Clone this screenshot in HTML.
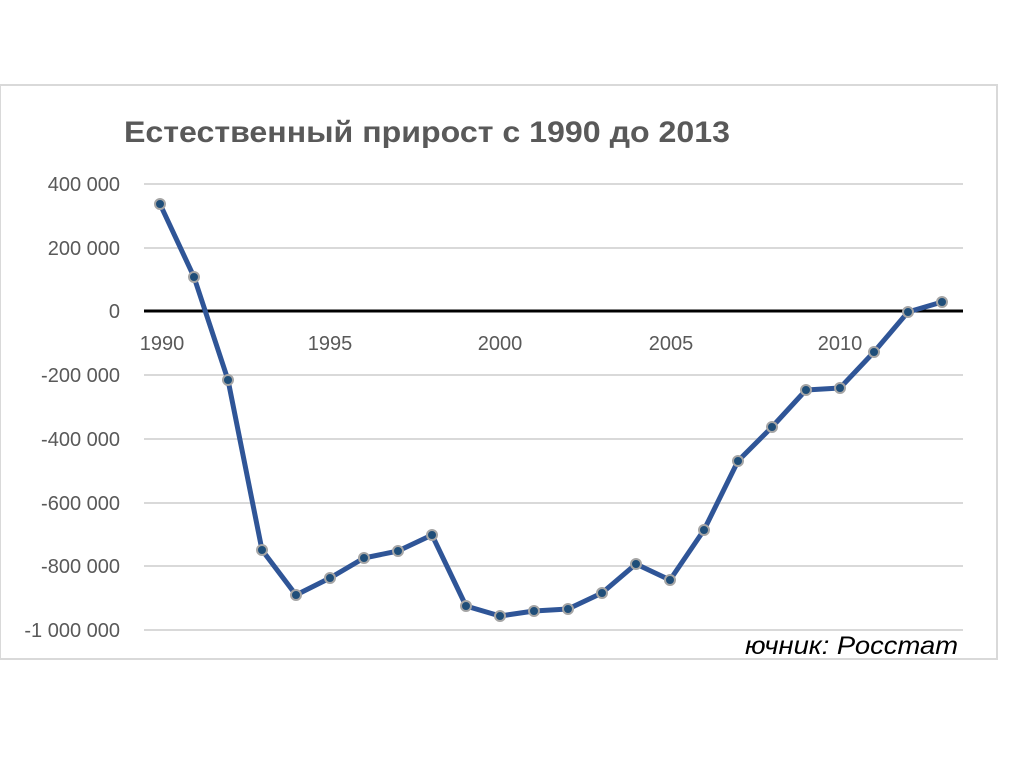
<!DOCTYPE html>
<html><head><meta charset="utf-8"><style>
body{margin:0;background:#fff;}
svg{display:block;}
text{font-family:"Liberation Sans","DejaVu Sans",sans-serif;}
</style></head><body>
<svg width="1024" height="767" viewBox="0 0 1024 767">
<rect x="0" y="85" width="997" height="574" fill="#fff" stroke="#d9d9d9" stroke-width="2"/>
<text x="124" y="142" font-size="30" font-weight="bold" fill="#595959" textLength="606" lengthAdjust="spacingAndGlyphs">Естественный прирост с 1990 до 2013</text>
<g stroke="#d9d9d9" stroke-width="2">
<line x1="144" x2="963" y1="184" y2="184"/>
<line x1="144" x2="963" y1="248" y2="248"/>
<line x1="144" x2="963" y1="375" y2="375"/>
<line x1="144" x2="963" y1="439" y2="439"/>
<line x1="144" x2="963" y1="503" y2="503"/>
<line x1="144" x2="963" y1="566" y2="566"/>
<line x1="144" x2="963" y1="630" y2="630"/>
</g>
<line x1="144" x2="963" y1="311" y2="311" stroke="#000" stroke-width="3"/>
<g font-size="20" fill="#595959" text-anchor="end">
<text x="120" y="191">400 000</text>
<text x="120" y="255">200 000</text>
<text x="120" y="318">0</text>
<text x="120" y="382">-200 000</text>
<text x="120" y="446">-400 000</text>
<text x="120" y="510">-600 000</text>
<text x="120" y="573">-800 000</text>
<text x="120" y="637">-1 000 000</text>
</g>
<g font-size="20" fill="#595959" text-anchor="middle">
<text x="162" y="350">1990</text>
<text x="330" y="350">1995</text>
<text x="500" y="350">2000</text>
<text x="671" y="350">2005</text>
<text x="840" y="350">2010</text>
</g>
<polyline fill="none" stroke="#2f5597" stroke-width="5" stroke-linejoin="round" points="160,204 194,277 228,380 262,550 296,595 330,578 364,558 398,551 432,535 466,606 500,616 534,611 568,609 602,593 636,564 670,580 704,530 738,461 772,427 806,390 840,388 874,352 908,312 942,302"/>
<g fill="#1f4e79" stroke="#a5a5a5" stroke-width="2">
<circle cx="160" cy="204" r="5"/><circle cx="194" cy="277" r="5"/><circle cx="228" cy="380" r="5"/><circle cx="262" cy="550" r="5"/><circle cx="296" cy="595" r="5"/><circle cx="330" cy="578" r="5"/><circle cx="364" cy="558" r="5"/><circle cx="398" cy="551" r="5"/><circle cx="432" cy="535" r="5"/><circle cx="466" cy="606" r="5"/><circle cx="500" cy="616" r="5"/><circle cx="534" cy="611" r="5"/><circle cx="568" cy="609" r="5"/><circle cx="602" cy="593" r="5"/><circle cx="636" cy="564" r="5"/><circle cx="670" cy="580" r="5"/><circle cx="704" cy="530" r="5"/><circle cx="738" cy="461" r="5"/><circle cx="772" cy="427" r="5"/><circle cx="806" cy="390" r="5"/><circle cx="840" cy="388" r="5"/><circle cx="874" cy="352" r="5"/><circle cx="908" cy="312" r="5"/><circle cx="942" cy="302" r="5"/>
</g>
<text x="745" y="654" font-size="25" font-style="italic" fill="#000" textLength="213" lengthAdjust="spacingAndGlyphs">ючник: Росстат</text>
</svg>
</body></html>
